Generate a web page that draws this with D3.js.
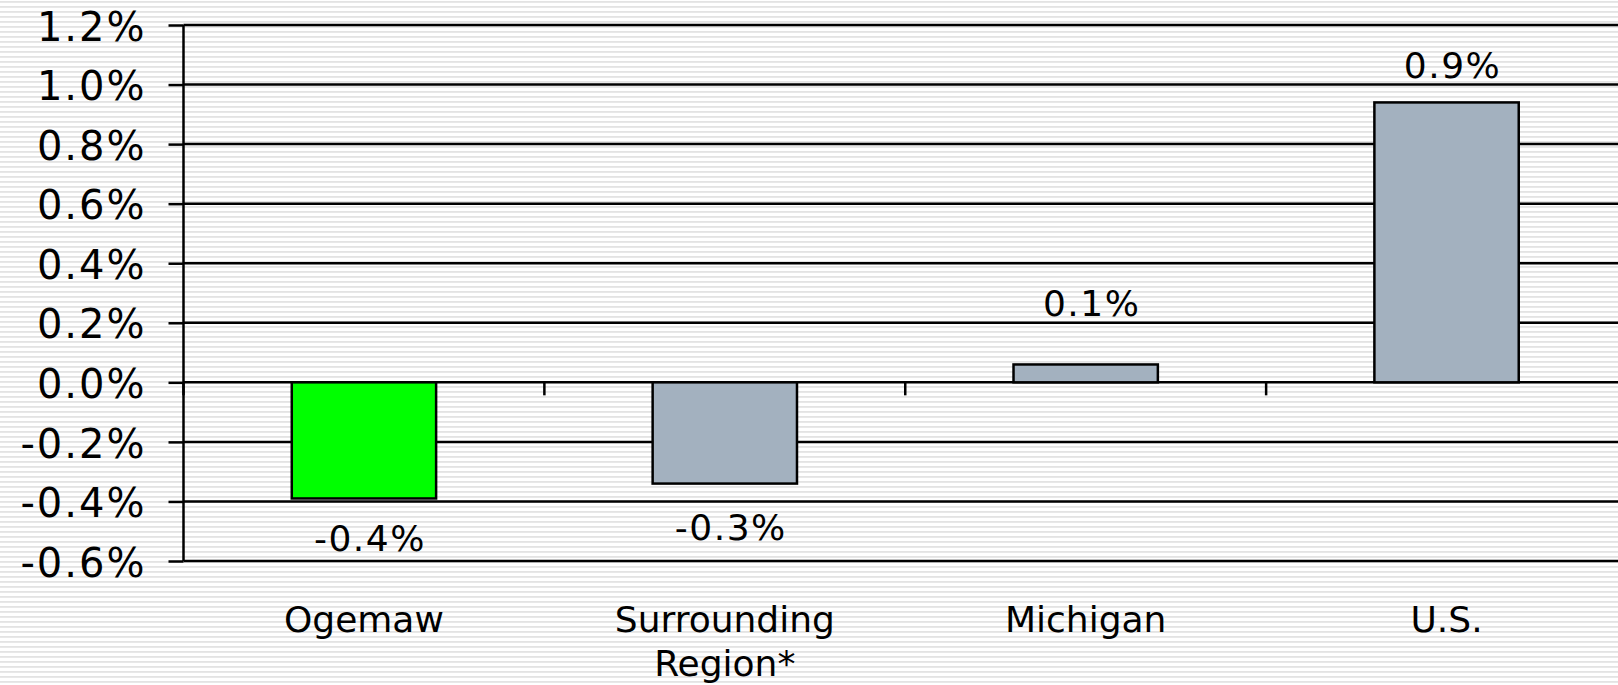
<!DOCTYPE html>
<html>
<head>
<meta charset="utf-8">
<script src="https://cdn.jsdelivr.net/npm/d3@7"></script>
<style>
  body { margin: 0; background: #fff; }
  text { font-family: "DejaVu Sans", Verdana, sans-serif; fill: #000; }
</style>
</head>
<body>
<div id="chart"></div>
<script>
// data (percent change)
var categories = ["Ogemaw", "Surrounding Region*", "Michigan", "U.S."];
var values = [-0.39, -0.34, 0.06, 0.94];
var barColors = ["#00ff00", "#a3b1bf", "#a3b1bf", "#a3b1bf"];
var yTicks = [-0.6, -0.4, -0.2, 0.0, 0.2, 0.4, 0.6, 0.8, 1.0, 1.2];

var W = 1618, H = 685;
// plot box (right edge runs past the window like in the original)
var plotLeft = 183.5, plotRight = 1627, plotTop = 25, plotBottom = 561;

// plain hyphen for negatives, like excel
var pct = d3.formatLocale({decimal: ".", thousands: ",", grouping: [3], currency: ["$", ""], minus: "-"}).format(".1f");

var svg = d3.select("#chart").append("svg")
    .attr("width", W)
    .attr("height", H);

// striped background like the excel chart area
var pat = svg.append("defs").append("pattern")
    .attr("id", "stripes")
    .attr("patternUnits", "userSpaceOnUse")
    .attr("width", 10)
    .attr("height", 5);
pat.append("rect").attr("width", 10).attr("height", 5).attr("fill", "#fff");
pat.append("rect").attr("y", 1).attr("width", 10).attr("height", 1.8).attr("fill", "#e3e3e3");

svg.append("rect")
    .attr("width", W)
    .attr("height", H)
    .attr("fill", "url(#stripes)");

var x = d3.scaleBand()
    .domain(categories)
    .range([plotLeft, plotRight])
    .paddingInner(0.6)
    .paddingOuter(0.3);

var y = d3.scaleLinear()
    .domain([-0.6, 1.2])
    .range([plotBottom, plotTop]);

// GRIDLINES
svg.append("g")
    .selectAll("line")
    .data(yTicks)
    .enter().append("line")
    .attr("x1", plotLeft)
    .attr("x2", plotRight)
    .attr("y1", function(d) { return y(d); })
    .attr("y2", function(d) { return y(d); })
    .attr("stroke", "#000")
    .attr("stroke-width", 2.5);

// Y AXIS
var yAxis = d3.axisLeft(y)
    .tickValues(yTicks)
    .tickSize(15)
    .tickPadding(22)
    .tickFormat(function(d) { return pct(d) + "%"; });

var gy = svg.append("g")
    .attr("transform", "translate(" + plotLeft + ",0)")
    .call(yAxis);

gy.select(".domain").remove();
gy.selectAll(".tick line").attr("stroke", "#000").attr("stroke-width", 2.5);
gy.selectAll(".tick text")
    .attr("dy", "0.38em")
    .attr("fill", "#000")
    .style("font-size", "40px")
    .style("letter-spacing", "2px")
    .style("font-family", "'DejaVu Sans', Verdana, sans-serif");

svg.append("line")
    .attr("x1", plotLeft).attr("x2", plotLeft)
    .attr("y1", y(1.2)).attr("y2", y(-0.6))
    .attr("stroke", "#000")
    .attr("stroke-width", 2.5);

// BARS
svg.append("g")
    .selectAll("rect")
    .data(values)
    .enter().append("rect")
    .attr("x", function(d, i) { return x(categories[i]); })
    .attr("width", x.bandwidth())
    .attr("y", function(d) { return y(Math.max(0, d)); })
    .attr("height", function(d) { return Math.abs(y(d) - y(0)); })
    .attr("fill", function(d, i) { return barColors[i]; })
    .attr("stroke", "#000")
    .attr("stroke-width", 2.5);

// category ticks on the zero line, at band boundaries
var bounds = categories.map(function(c) { return x(c) + x.bandwidth() / 2 - x.step() / 2; });
svg.append("g")
    .selectAll("line")
    .data(bounds)
    .enter().append("line")
    .attr("x1", function(d) { return d; })
    .attr("x2", function(d) { return d; })
    .attr("y1", y(0))
    .attr("y2", y(0) + 13)
    .attr("stroke", "#000")
    .attr("stroke-width", 2.5);

// DATA LABELS (excel placed them a bit irregularly)
var labelNudge = [40, 43, -61, -37];
svg.append("g")
    .selectAll("text")
    .data(values)
    .enter().append("text")
    .attr("x", function(d, i) { return x(categories[i]) + x.bandwidth() / 2 + 6; })
    .attr("y", function(d, i) { return y(d) + labelNudge[i]; })
    .attr("dy", "0.36em")
    .attr("text-anchor", "middle")
    .style("font-size", "36px")
    .style("letter-spacing", "1.5px")
    .text(function(d) { return pct(d) + "%"; });

// CATEGORY LABELS
var cat = svg.append("g")
    .selectAll("text")
    .data(categories)
    .enter().append("text")
    .attr("x", function(d) { return x(d) + x.bandwidth() / 2; })
    .attr("y", 632)
    .attr("text-anchor", "middle")
    .style("font-size", "36px");

cat.each(function(d) {
    var words = d === "Surrounding Region*" ? ["Surrounding", "Region*"] : [d];
    var t = d3.select(this);
    words.forEach(function(w, k) {
        t.append("tspan")
            .attr("x", t.attr("x"))
            .attr("dy", k === 0 ? 0 : 44)
            .text(w);
    });
});
</script>
</body>
</html>
